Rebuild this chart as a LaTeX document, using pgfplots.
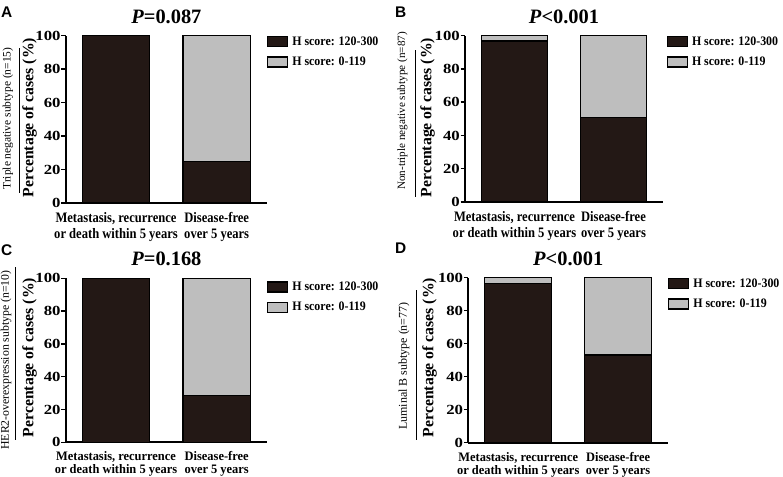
\documentclass[border=0pt]{standalone}
\usepackage{pgfplots}
\pgfplotsset{compat=1.18}
\usepackage{fontspec}
\setmainfont{Liberation Serif}
\newfontfamily\lsans{Liberation Sans}
\usepackage{graphicx}
\definecolor{dk}{HTML}{231815}
\definecolor{gr}{HTML}{BEBEBE}
\newcommand{\hx}[2]{\scalebox{#1}[1]{#2}}
\pgfplotsset{
 panel/.style={
  scale only axis, anchor=south west,
  ybar stacked, bar width=0.67,
  xmin=-0.5, xmax=1.5, ymin=0, ymax=100, enlargelimits=false, clip=false,
  axis lines*=left,
  axis line style={line width=1.8bp},
  ytick={0,20,40,60,80,100},
  xtick={0,1},
  tick align=outside,
  major tick length=4.5bp,
  ytick style={line width=1.5bp, black},
  xtick style={draw=none},
  /pgf/number format/assume math mode=true,
  yticklabel={\hx{1.2}{\pgfmathprintnumber{\tick}}},
  yticklabel style={font=\fontsize{14}{14}\selectfont\bfseries, inner sep=0.5bp},
  title style={at={(axis description cs:0.5,1)}, anchor=base, yshift=6.5bp, inner sep=0pt, font=\fontsize{20.5}{21}\selectfont\bfseries},
  legend style={at={(axis description cs:1,1)}, anchor=north west, draw=none, fill=none, inner sep=0pt, outer sep=0pt, row sep=8bp, font=\fontsize{13}{13}\selectfont\bfseries, nodes={inner sep=1bp}, /tikz/every odd column/.append style={column sep=3bp}},
  legend cell align=left,
  legend image code/.code={\draw[##1, line width=1.3bp] (0bp,-5bp) rectangle (20bp,5bp);},
 },
 toplab/.style={
  xticklabels={{\hx{0.87}{\begin{tabular}{@{}c@{}}Metastasis, recurrence\\or death within 5 years\end{tabular}}},{\hx{0.87}{\begin{tabular}{@{}c@{}}Disease-free\\over 5 years\end{tabular}}}},
  xticklabel style={font=\fontsize{14.5}{16.6}\selectfont\bfseries, inner sep=0pt, yshift=-3bp},
 },
 botlab/.style={
  xticklabels={{\hx{0.96}{\begin{tabular}{@{}c@{}}Metastasis, recurrence\\or death within 5 years\end{tabular}}},{\hx{0.96}{\begin{tabular}{@{}c@{}}Disease-free\\over 5 years\end{tabular}}}},
  xticklabel style={font=\fontsize{13}{13.2}\selectfont\bfseries, inner sep=0pt, yshift=-4.6bp},
 },
 dkbar/.style={fill=dk, draw=black, line width=1.3bp},
 grbar/.style={fill=gr, draw=black, line width=1.3bp},
}
\begin{document}
\begin{tikzpicture}
\useasboundingbox (0,0) rectangle (783bp,-477bp);
% Panel A
\begin{axis}[panel, toplab, at={(65.7bp,-203bp)}, width=201.3bp, height=167.3bp, title={\textit{P}=0.087}]
\addplot[dkbar] coordinates {(0,100) (1,25)};
\addplot[grbar] coordinates {(0,0) (1,75)};
\legend{\hx{0.92}{H score: 120-300}, \hx{0.92}{H score: 0-119}}
\end{axis}
% Panel B
\begin{axis}[panel, toplab, at={(465bp,-202bp)}, width=198bp, height=166.3bp, title={\textit{P}<0.001}, legend style={xshift=3.7bp}]
\addplot[dkbar] coordinates {(0,96.8) (1,51)};
\addplot[grbar] coordinates {(0,3.2) (1,49)};
\legend{\hx{0.92}{H score: 120-300}, \hx{0.92}{H score: 0-119}}
\end{axis}
% Panel C
\begin{axis}[panel, botlab, at={(65.7bp,-442.3bp)}, width=201.3bp, height=164bp, title={\textit{P}=0.168}, legend style={yshift=-2.7bp}]
\addplot[dkbar] coordinates {(0,100) (1,28.6)};
\addplot[grbar] coordinates {(0,0) (1,71.4)};
\legend{\hx{0.92}{H score: 120-300}, \hx{0.92}{H score: 0-119}}
\end{axis}
% Panel D
\begin{axis}[panel, botlab, at={(468.3bp,-442.7bp)}, width=199.7bp, height=165bp, title={\textit{P}<0.001}]
\addplot[dkbar] coordinates {(0,96.6) (1,53.2)};
\addplot[grbar] coordinates {(0,3.4) (1,46.8)};
\legend{\hx{0.92}{H score: 120-300}, \hx{0.92}{H score: 0-119}}
\end{axis}
% panel letters
\begin{scope}[every node/.style={font=\lsans\bfseries\fontsize{15.5}{16}\selectfont, inner sep=0pt, anchor=base west}]
\node at (1bp,-17bp) {A};
\node at (395bp,-17bp) {B};
\node at (1bp,-255bp) {C};
\node at (395bp,-253bp) {D};
\end{scope}
% y labels
\begin{scope}[every node/.style={rotate=90, inner sep=0pt}]
\node[font=\fontsize{11.5}{12}\selectfont] at (8bp,-118.5bp) {Triple negative subtype (n=15)};
\node[font=\fontsize{11.2}{12}\selectfont] at (402.5bp,-111bp) {Non-triple negative subtype (n=87)};
\node[font=\fontsize{11.8}{12}\selectfont] at (6bp,-360bp) {HER2-overexpression subtype (n=10)};
\node[font=\fontsize{12}{12}\selectfont] at (404bp,-366bp) {Luminal B subtype (n=77)};
\node[font=\fontsize{15.8}{16}\selectfont\bfseries] at (29.5bp,-117.5bp) {Percentage of cases (\%)};
\node[font=\fontsize{15.8}{16}\selectfont\bfseries] at (427.5bp,-117.5bp) {Percentage of cases (\%)};
\node[font=\fontsize{15.8}{16}\selectfont\bfseries] at (29.5bp,-357.5bp) {Percentage of cases (\%)};
\node[font=\fontsize{15.8}{16}\selectfont\bfseries] at (429.5bp,-357.5bp) {Percentage of cases (\%)};
\end{scope}
\draw[line width=0.8bp] (19.5bp,-48bp) -- (19.5bp,-193bp);
\draw[line width=0.8bp] (415bp,-50bp) -- (415bp,-197bp);
\draw[line width=0.8bp] (15bp,-267bp) -- (15bp,-440bp);
\draw[line width=0.8bp] (416bp,-290bp) -- (416bp,-440bp);
\end{tikzpicture}
\end{document}
